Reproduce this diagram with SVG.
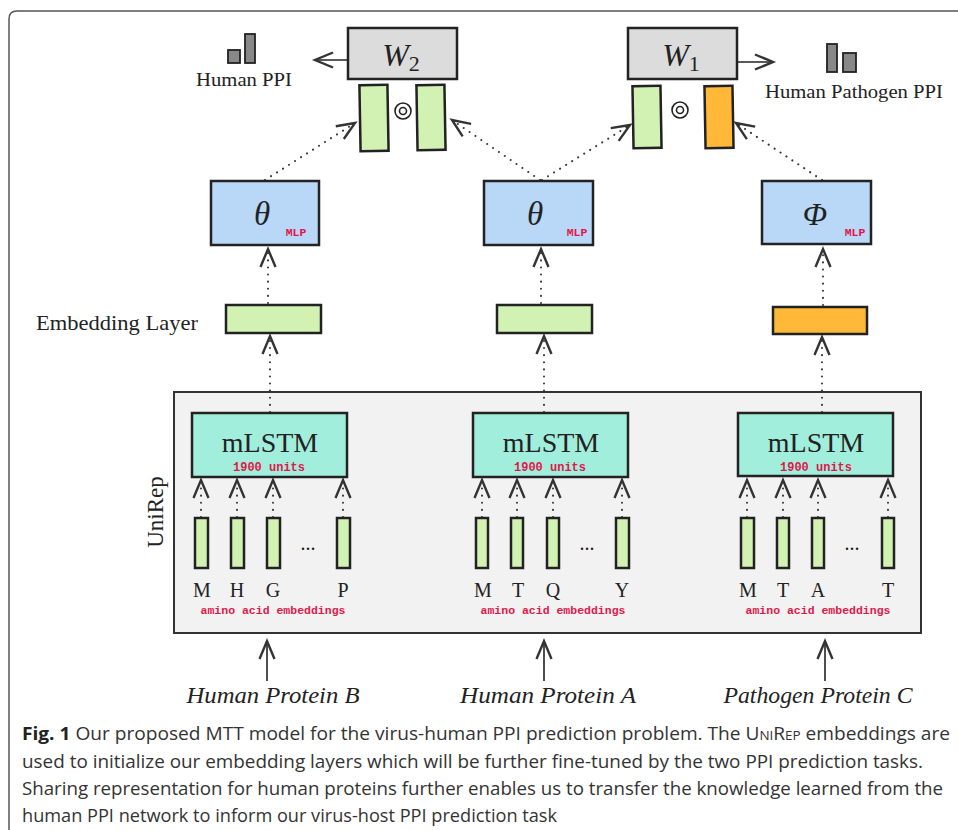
<svg xmlns="http://www.w3.org/2000/svg" width="958" height="830" viewBox="0 0 958 830">
<defs>
<style>
.box{stroke:#222;stroke-width:2.5}
.green{fill:#d2f2b4}
.orange{fill:#ffb838}
.blue{fill:#b9d7f7}
.teal{fill:#a2eedd}
.gray{fill:#dcdcdc}
.dot{fill:none;stroke:#333;stroke-width:2;stroke-dasharray:0.1 7;stroke-linecap:round}
.solid{fill:none;stroke:#222;stroke-width:1.6}
.serif{font-family:"Liberation Serif","DejaVu Serif",serif;fill:#222}
.mono{font-family:"Liberation Mono","DejaVu Sans Mono",monospace;font-weight:bold;fill:#e0184a}
.cap{font-family:"Open Sans","Noto Sans","Liberation Sans",sans-serif;fill:#333;font-size:18.5px}
</style>
<marker id="ah" markerUnits="userSpaceOnUse" markerWidth="24" markerHeight="24" refX="0" refY="0" viewBox="-14 -8 16 16" orient="auto" overflow="visible">
<path d="M-12,-5 L0,0 L-12,5" fill="none" stroke="#333" stroke-width="1.6"/>
</marker>
</defs>
<rect x="0" y="0" width="958" height="830" fill="#fff"/>
<path d="M9,835 L9,19 Q9,11 17,11 L965,11" fill="none" stroke="#555" stroke-width="1.5"/>

<g id="unirep">
<rect x="174" y="392" width="747" height="241" fill="#f2f2f2" stroke="#333" stroke-width="2"/>
<text class="serif" font-size="23" transform="translate(163,512) rotate(-90)" text-anchor="middle">UniRep</text>
</g>

<g id="connectors">
<line class="dot" x1="265" y1="180" x2="355" y2="123" marker-end="url(#ah)"/>
<line class="dot" x1="540" y1="180" x2="452" y2="120" marker-end="url(#ah)"/>
<line class="dot" x1="542" y1="180" x2="630" y2="125" marker-end="url(#ah)"/>
<line class="dot" x1="822" y1="180" x2="736" y2="123" marker-end="url(#ah)"/>
<line class="dot" x1="268" y1="303" x2="268" y2="249" marker-end="url(#ah)"/>
<line class="dot" x1="541" y1="303" x2="541" y2="249" marker-end="url(#ah)"/>
<line class="dot" x1="823" y1="305" x2="823" y2="249" marker-end="url(#ah)"/>
<line class="dot" x1="270" y1="412" x2="270" y2="336" marker-end="url(#ah)"/>
<line class="dot" x1="544" y1="412" x2="544" y2="336" marker-end="url(#ah)"/>
<line class="dot" x1="822" y1="412" x2="822" y2="337" marker-end="url(#ah)"/>
<line class="dot" x1="201" y1="517" x2="201" y2="480" marker-end="url(#ah)"/>
<line class="dot" x1="237" y1="517" x2="237" y2="480" marker-end="url(#ah)"/>
<line class="dot" x1="273" y1="517" x2="273" y2="480" marker-end="url(#ah)"/>
<line class="dot" x1="343" y1="517" x2="343" y2="480" marker-end="url(#ah)"/>
<line class="dot" x1="482" y1="517" x2="482" y2="480" marker-end="url(#ah)"/>
<line class="dot" x1="517" y1="517" x2="517" y2="480" marker-end="url(#ah)"/>
<line class="dot" x1="553" y1="517" x2="553" y2="480" marker-end="url(#ah)"/>
<line class="dot" x1="622" y1="517" x2="622" y2="480" marker-end="url(#ah)"/>
<line class="dot" x1="747" y1="517" x2="747" y2="480" marker-end="url(#ah)"/>
<line class="dot" x1="783" y1="517" x2="783" y2="480" marker-end="url(#ah)"/>
<line class="dot" x1="818" y1="517" x2="818" y2="480" marker-end="url(#ah)"/>
<line class="dot" x1="888" y1="517" x2="888" y2="480" marker-end="url(#ah)"/>
<line class="solid" x1="267" y1="681" x2="267" y2="641" marker-end="url(#ah)"/>
<line class="solid" x1="544" y1="681" x2="544" y2="641" marker-end="url(#ah)"/>
<line class="solid" x1="825" y1="681" x2="825" y2="641" marker-end="url(#ah)"/>
<line class="solid" x1="348" y1="60" x2="315" y2="60" marker-end="url(#ah)"/>
<line class="solid" x1="737" y1="62" x2="773" y2="62" marker-end="url(#ah)"/>
</g>

<g id="w2">
<rect class="box gray" x="348" y="28" width="109" height="51"/>
<text class="serif" x="401" y="66" font-size="32" text-anchor="middle"><tspan font-style="italic">W</tspan><tspan font-size="22" dy="5">2</tspan></text>
</g>
<g id="w1">
<rect class="box gray" x="628" y="28" width="109" height="51"/>
<text class="serif" x="681" y="66" font-size="32" text-anchor="middle"><tspan font-style="italic">W</tspan><tspan font-size="22" dy="5">1</tspan></text>
</g>

<g id="human-ppi">
<rect x="228" y="50" width="12" height="13" fill="#888" stroke="#222" stroke-width="1.8"/>
<rect x="245" y="34" width="10" height="29" fill="#888" stroke="#222" stroke-width="1.8"/>
<text class="serif" x="244" y="86" font-size="18.5" text-anchor="middle" fill="#333" textLength="96" lengthAdjust="spacingAndGlyphs">Human PPI</text>
</g>
<g id="pathogen-ppi">
<rect x="827" y="44" width="10" height="28" fill="#888" stroke="#222" stroke-width="1.8"/>
<rect x="843" y="53" width="13" height="19" fill="#888" stroke="#222" stroke-width="1.8"/>
<text class="serif" x="854" y="98" font-size="18.5" text-anchor="middle" fill="#333" textLength="178" lengthAdjust="spacingAndGlyphs">Human Pathogen PPI</text>
</g>

<g id="pair-human">
<rect class="box green" x="360" y="85" width="28" height="66" transform="rotate(-1 374 118)"/>
<rect class="box green" x="417" y="85" width="28" height="65" transform="rotate(-1 431 118)"/>
<circle cx="403" cy="111" r="8" fill="none" stroke="#222" stroke-width="1.6"/>
<circle cx="403" cy="111" r="3.5" fill="none" stroke="#222" stroke-width="1.6"/>
</g>
<g id="pair-pathogen">
<rect class="box green" x="633" y="86" width="28" height="62" transform="rotate(-1 647 117)"/>
<rect class="box orange" x="705" y="86" width="28" height="62" transform="rotate(-1 719 117)"/>
<circle cx="680" cy="110" r="8" fill="none" stroke="#222" stroke-width="1.6"/>
<circle cx="680" cy="110" r="3.5" fill="none" stroke="#222" stroke-width="1.6"/>
</g>

<g id="theta-b">
<rect class="box blue" x="211" y="181" width="108" height="64"/>
<text class="serif" x="262" y="225" font-size="33" font-style="italic" text-anchor="middle">θ</text>
<text class="mono" x="296" y="236" font-size="11.5" text-anchor="middle">MLP</text>
</g>
<g id="theta-a">
<rect class="box blue" x="484" y="181" width="109" height="64"/>
<text class="serif" x="535" y="225" font-size="33" font-style="italic" text-anchor="middle">θ</text>
<text class="mono" x="577" y="236" font-size="11.5" text-anchor="middle">MLP</text>
</g>
<g id="phi-c">
<rect class="box blue" x="762" y="181" width="109" height="63"/>
<text class="serif" x="815" y="225" font-size="32" font-style="italic" text-anchor="middle">Φ</text>
<text class="mono" x="855" y="236" font-size="11.5" text-anchor="middle">MLP</text>
</g>

<g id="embedding">
<text class="serif" x="117" y="330" font-size="21" text-anchor="middle" textLength="162" lengthAdjust="spacingAndGlyphs">Embedding Layer</text>
<rect class="box green" x="226" y="305" width="95" height="28"/>
<rect class="box green" x="497" y="305" width="95" height="28"/>
<rect class="box orange" x="773" y="307" width="94" height="27"/>
</g>

<g id="mlstm-b">
<rect class="box teal" x="192" y="413" width="155" height="64"/>
<text class="serif" x="270" y="452" font-size="28" text-anchor="middle">mLSTM</text>
<text class="mono" x="269" y="471" font-size="12" text-anchor="middle">1900 units</text>
<rect class="box green" x="195" y="518" width="13" height="50"/>
<rect class="box green" x="231" y="518" width="13" height="50"/>
<rect class="box green" x="267" y="518" width="13" height="50"/>
<rect class="box green" x="337" y="518" width="13" height="50"/>
<text class="serif" x="308" y="550" font-size="20" text-anchor="middle">...</text>
<text class="serif" font-size="20" text-anchor="middle" y="597"><tspan x="202">M</tspan><tspan x="237">H</tspan><tspan x="273">G</tspan><tspan x="343">P</tspan></text>
<text class="mono" x="273" y="614" font-size="11.5" text-anchor="middle">amino acid embeddings</text>
</g>
<g id="mlstm-a">
<rect class="box teal" x="473" y="413" width="155" height="64"/>
<text class="serif" x="551" y="452" font-size="28" text-anchor="middle">mLSTM</text>
<text class="mono" x="550" y="471" font-size="12" text-anchor="middle">1900 units</text>
<rect class="box green" x="476" y="518" width="12" height="50"/>
<rect class="box green" x="511" y="518" width="12" height="50"/>
<rect class="box green" x="547" y="518" width="12" height="50"/>
<rect class="box green" x="616" y="518" width="13" height="50"/>
<text class="serif" x="587" y="550" font-size="20" text-anchor="middle">...</text>
<text class="serif" font-size="20" text-anchor="middle" y="597"><tspan x="483">M</tspan><tspan x="518">T</tspan><tspan x="553">Q</tspan><tspan x="622">Y</tspan></text>
<text class="mono" x="553" y="614" font-size="11.5" text-anchor="middle">amino acid embeddings</text>
</g>
<g id="mlstm-c">
<rect class="box teal" x="738" y="413" width="155" height="63"/>
<text class="serif" x="816" y="452" font-size="28" text-anchor="middle">mLSTM</text>
<text class="mono" x="816" y="471" font-size="12" text-anchor="middle">1900 units</text>
<rect class="box green" x="741" y="518" width="13" height="50"/>
<rect class="box green" x="777" y="518" width="12" height="50"/>
<rect class="box green" x="812" y="518" width="12" height="50"/>
<rect class="box green" x="882" y="518" width="12" height="50"/>
<text class="serif" x="852" y="550" font-size="20" text-anchor="middle">...</text>
<text class="serif" font-size="20" text-anchor="middle" y="597"><tspan x="748">M</tspan><tspan x="783">T</tspan><tspan x="818">A</tspan><tspan x="888">T</tspan></text>
<text class="mono" x="818" y="614" font-size="11.5" text-anchor="middle">amino acid embeddings</text>
</g>

<g id="inputs">
<text class="serif" x="273" y="703" font-size="24" font-style="italic" text-anchor="middle" textLength="173" lengthAdjust="spacingAndGlyphs">Human Protein B</text>
<text class="serif" x="548" y="703" font-size="24" font-style="italic" text-anchor="middle" textLength="176" lengthAdjust="spacingAndGlyphs">Human Protein A</text>
<text class="serif" x="818" y="703" font-size="24" font-style="italic" text-anchor="middle" textLength="189" lengthAdjust="spacingAndGlyphs">Pathogen Protein C</text>
</g>

<g id="caption">
<text class="cap" x="22" y="740" textLength="928" lengthAdjust="spacingAndGlyphs"><tspan font-weight="bold" fill="#222">Fig. 1</tspan>  Our proposed MTT model for the virus-human PPI prediction problem. The U<tspan font-size="13">NI</tspan>R<tspan font-size="13">EP</tspan> embeddings are</text>
<text class="cap" x="22" y="768" textLength="901" lengthAdjust="spacingAndGlyphs">used to initialize our embedding layers which will be further fine-tuned by the two PPI prediction tasks.</text>
<text class="cap" x="22" y="795" textLength="921" lengthAdjust="spacingAndGlyphs">Sharing representation for human proteins further enables us to transfer the knowledge learned from the</text>
<text class="cap" x="22" y="822" textLength="535" lengthAdjust="spacingAndGlyphs">human PPI network to inform our virus-host PPI prediction task</text>
</g>
</svg>
